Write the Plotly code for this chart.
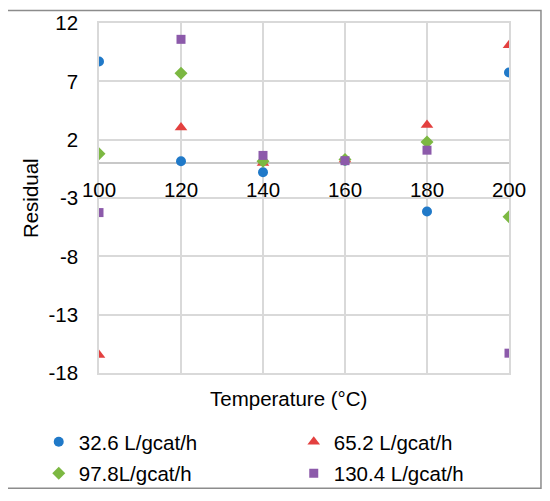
import plotly.graph_objects as go

# temperatures (x) and residuals per flow rate
temps = [100, 120, 140, 160, 180, 200]
res_326 = [8.7, 0.15, -0.8, 0.2, -4.15, 7.75]
res_652 = [-16.45, 3.05, 0.0, 0.3, 3.25, 10.1]
res_978 = [0.8, 7.7, 0.15, 0.3, 1.8, -4.6]
res_1304 = [-4.25, 10.6, 0.65, 0.2, 1.1, -16.3]

y_ticks = [-18, -13, -8, -3, 2, 7, 12]
y_ticktext = ['-18', '-13', '-8', '-3', '2', '7', '12']
x_ticks = [100, 120, 140, 160, 180, 200]

series = [
    ('32.6 L/gcat/h', res_326, '#2079c8', 'circle', 10, 'legend'),
    ('65.2 L/gcat/h', res_652, '#e3403f', 'triangle-up', 11, 'legend2'),
    ('97.8L/gcat/h', res_978, '#7cb842', 'diamond', 10, 'legend3'),
    ('130.4 L/gcat/h', res_1304, '#8c5aaa', 'square', 9, 'legend4'),
]

FONT = 'Arial, Liberation Sans, sans-serif'
FS = 20.5
GRID = '#d9d9d9'

fig = go.Figure()
for name, vals, color, sym, size, leg in series:
    fig.add_trace(go.Scatter(
        x=temps, y=vals, mode='markers', name=name,
        marker=dict(color=color, symbol=sym, size=size, line_width=0),
        legend=leg,
    ))

# invisible trace on the secondary x axis so its labels sit on y=0
fig.add_trace(go.Scatter(x=[100, 200], y=[0, 0], xaxis='x2', mode='markers',
                         marker_opacity=0, showlegend=False, hoverinfo='skip'))

# one legend per entry so the 2x2 block can be placed like the original
leg_x = [-0.147, 0.475, -0.147, 0.475]
leg_y = [-0.197, -0.197, -0.287, -0.287]
legends = {}
for i in range(4):
    key = 'legend' if i == 0 else 'legend{}'.format(i + 1)
    legends[key] = dict(orientation='h', x=leg_x[i], y=leg_y[i],
                        xanchor='left', yanchor='middle', itemwidth=30,
                        font=dict(size=FS), bgcolor='rgba(0,0,0,0)')

fig.update_layout(
    width=550, height=501,
    margin=dict(l=91, r=49, t=15, b=136, autoexpand=False),
    plot_bgcolor='white', paper_bgcolor='white',
    font=dict(family=FONT, size=FS, color='black'),
    xaxis=dict(range=[100, 200], tickvals=x_ticks, showticklabels=False,
               showgrid=True, gridcolor=GRID, gridwidth=1.5,
               zeroline=False, showline=True, mirror=True,
               linecolor=GRID, linewidth=1.5),
    xaxis2=dict(range=[100, 200], tickvals=x_ticks, overlaying='x',
                anchor='free', position=0.6, side='bottom',
                showgrid=False, zeroline=False, showline=False,
                ticks='', ticklabelstandoff=12, tickfont=dict(size=FS)),
    yaxis=dict(range=[-18, 12], tickvals=y_ticks, ticktext=y_ticktext,
               showgrid=True, gridcolor=GRID, gridwidth=1.5,
               zeroline=True, zerolinecolor='#c8c8c8', zerolinewidth=1.5,
               showline=True, mirror=True, linecolor=GRID, linewidth=1.5,
               ticks='', ticklabelstandoff=15),
    showlegend=True,
    **legends,
)

fig.add_annotation(text='Temperature (°C)', xref='paper', yref='paper',
                   x=0.461, y=-0.072, showarrow=False,
                   font=dict(size=FS), xanchor='center', yanchor='middle')
fig.add_annotation(text='Residual', xref='paper', yref='paper',
                   x=-0.168, y=0.5, showarrow=False, textangle=-90,
                   font=dict(size=FS), xanchor='center', yanchor='middle')

# outer chart border
fig.add_shape(type='rect', xref='paper', yref='paper',
              x0=-0.227, x1=1.078, y0=-0.329, y1=1.036,
              line=dict(color='#8c8c8c', width=1.5), layer='below')

fig.write_html('out.html')
